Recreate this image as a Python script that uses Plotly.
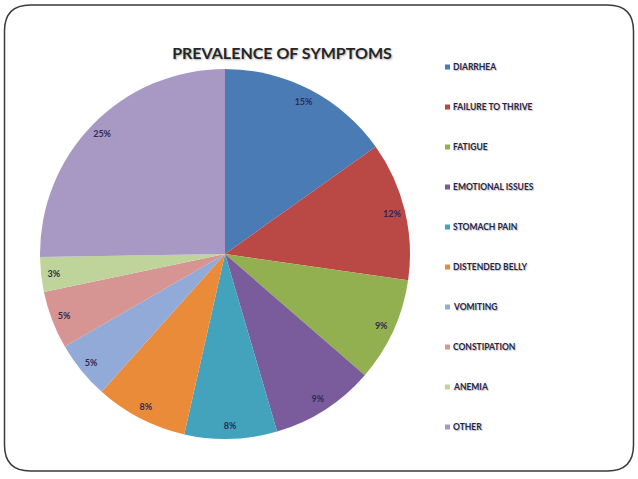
import plotly.graph_objects as go

# ---- data ----
categories = ["DIARRHEA", "FAILURE TO THRIVE", "FATIGUE", "EMOTIONAL ISSUES",
              "STOMACH PAIN", "DISTENDED BELLY", "VOMITING", "CONSTIPATION",
              "ANEMIA", "OTHER"]
values = [15, 12, 9, 9, 8, 8, 5, 5, 3, 25]
pct_labels = [f"<b>{v}%</b>" for v in values]
colors = ["#4A7BB5", "#BA4845", "#92B050", "#7A5B9C", "#43A3BC",
          "#EA8B3A", "#92AAD8", "#D69492", "#BED49A", "#A899C4"]
title_text = "PREVALENCE OF SYMPTOMS"

# ---- layout geometry (pixels) ----
W, H = 638, 479
cx, cy, R = 225, 254, 185
dom = dict(x=[(cx - R) / W, (cx + R) / W], y=[(H - cy - R) / H, (H - cy + R) / H])

fig = go.Figure()

# main pie
fig.add_trace(go.Pie(
    labels=categories, values=values, sort=False, direction="clockwise",
    rotation=0, marker=dict(colors=colors, line=dict(width=0)),
    textinfo="none", domain=dom, showlegend=False,
    hoverinfo="label+percent",
))

# transparent outer ring that carries the percentage labels near the rim
fig.add_trace(go.Pie(
    labels=categories, values=values, sort=False, direction="clockwise",
    rotation=0, hole=0.86,
    marker=dict(colors=["rgba(0,0,0,0)"] * len(values), line=dict(width=0)),
    text=pct_labels, textinfo="text", textposition="inside",
    insidetextorientation="horizontal",
    textfont=dict(family="Lato", size=9, color="#2D2B55"),
    domain=dom, showlegend=False, hoverinfo="skip",
))

shapes = []
annotations = []

# legend (manual, evenly spaced like the original)
leg_x, leg_y0, leg_dy = 445, 67, 40
for i, (name, col) in enumerate(zip(categories, colors)):
    yc = leg_y0 + leg_dy * i
    shapes.append(dict(
        type="rect", xref="paper", yref="paper",
        x0=leg_x / W, x1=(leg_x + 5) / W,
        y0=1 - (yc + 2.5) / H, y1=1 - (yc - 2.5) / H,
        fillcolor=col, line=dict(width=0),
    ))
    annotations.append(dict(
        x=(leg_x + 5.5) / W, y=1 - yc / H, xref="paper", yref="paper",
        xanchor="left", yanchor="middle", showarrow=False, text=name,
        font=dict(family="Lato", size=8.5, color="#262444", weight="bold",
                  shadow="1px 1px 1px #bbbbbb"),
    ))

# rounded slide frame
x0, x1, y0, y1 = 4.5 / W, 633.5 / W, 1 - 471 / H, 1 - 5 / H
rx, ry = 26 / W, 26 / H
path = (f"M {x0 + rx},{y1} L {x1 - rx},{y1} Q {x1},{y1} {x1},{y1 - ry} "
        f"L {x1},{y0 + ry} Q {x1},{y0} {x1 - rx},{y0} "
        f"L {x0 + rx},{y0} Q {x0},{y0} {x0},{y0 + ry} "
        f"L {x0},{y1 - ry} Q {x0},{y1} {x0 + rx},{y1} Z")
shapes.append(dict(type="path", xref="paper", yref="paper", path=path,
                   line=dict(color="#3a3a3a", width=1.5), layer="below"))

fig.update_layout(
    width=W, height=H, autosize=False,
    margin=dict(l=0, r=0, t=0, b=0),
    paper_bgcolor="white", plot_bgcolor="white",
    uniformtext=dict(minsize=9, mode="show"),
    title=dict(text=title_text, x=282 / W, y=1 - 53 / H,
               xanchor="center", yanchor="middle",
               font=dict(family="Lato", size=16, color="#262626", weight="bold",
                         shadow="1px 1px 2px #b0b0b0")),
    shapes=shapes, annotations=annotations,
    xaxis=dict(visible=False), yaxis=dict(visible=False),
)

fig.write_html("out.html", config={"displayModeBar": False},
               post_script="document.body.style.margin='0';document.body.style.overflow='hidden';")
